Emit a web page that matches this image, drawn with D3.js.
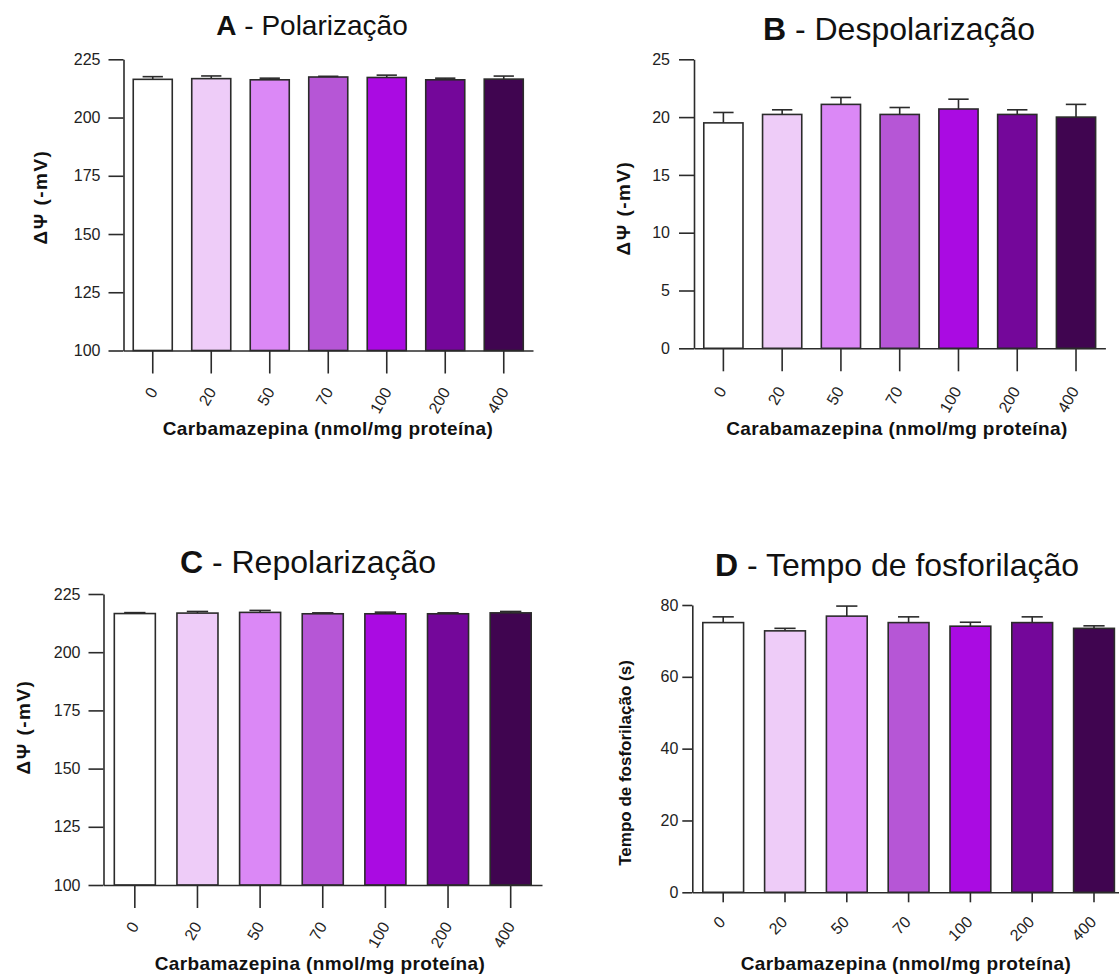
<!DOCTYPE html>
<html>
<head>
<meta charset="utf-8">
<script src="https://cdn.jsdelivr.net/npm/d3@7"></script>
<style>
  body { margin: 0; background: #fff; }
  svg { display: block; }
  text { font-family: "Liberation Sans", Arial, Helvetica, sans-serif; }
</style>
</head>
<body>
<svg id="fig" width="1119" height="977"></svg>
<script>
// Carbamazepine doses (nmol/mg protein) and the fill used for each dose
const doses = ["0", "20", "50", "70", "100", "200", "400"];
const barColors = ["#ffffff", "#eeccf8", "#db88f6", "#b656d6", "#aa0be2", "#74079a", "#400550"];

// A - polarization (mean and SEM, -mV)
const polarizacao    = [216.4, 216.7, 216.2, 217.4, 217.2, 216.2, 216.5];
const polarizacaoSem = [1.15, 1.15, 0.7, 0.3, 1.0, 0.7, 1.3];

// B - depolarization (mean and SEM, -mV)
const despolarizacao    = [19.5, 20.23, 21.1, 20.23, 20.7, 20.23, 20.0];
const despolarizacaoSem = [0.9, 0.4, 0.6, 0.6, 0.85, 0.4, 1.1];

// C - repolarization (mean and SEM, -mV)
const repolarizacao    = [216.6, 216.8, 217.1, 216.5, 216.5, 216.5, 216.9];
const repolarizacaoSem = [0.4, 0.7, 0.85, 0.4, 0.7, 0.4, 0.6];

// D - phosphorylation time (mean and SEM, s)
const tempoFosforilacao    = [75.1, 72.8, 76.9, 75.1, 74.1, 75.1, 73.5];
const tempoFosforilacaoSem = [1.6, 0.7, 2.8, 1.6, 1.1, 1.6, 0.7];

// y tick values
const ticksMV    = [100, 125, 150, 175, 200, 225];
const ticksDesp  = [0, 5, 10, 15, 20, 25];
const ticksTempo = [0, 20, 40, 60, 80];

const svg = d3.select("#fig");
svg.append("rect").attr("width", 1119).attr("height", 977).attr("fill", "#fff");

const panels = [
  { letter: "A", title: "Polarização", values: polarizacao, sem: polarizacaoSem, ticks: ticksMV,
    ylabel: "ΔΨ (-mV)", xlabel: "Carbamazepina (nmol/mg proteína)",
    x0: 123.5, x1: 533, yTop: 59.3, yBot: 350.5, pad: 0.333,
    yTick: 15, yPad: 8, xTick: 23, lx: 5.5, ly: 41, rot: -60,
    title_x: 312, title_y: 35, titleSize: 28,
    yl_x: 40, yl_y: 197, ylSize: 19, ylSpacing: 1.5,
    xl_x: 328, xl_y: 435, xlSize: 19 },
  { letter: "B", title: "Despolarização", values: despolarizacao, sem: despolarizacaoSem, ticks: ticksDesp,
    ylabel: "ΔΨ (-mV)", xlabel: "Carabamazepina (nmol/mg proteína)",
    x0: 694, x1: 1105.4, yTop: 59.3, yBot: 348.3, pad: 0.333,
    yTick: 15, yPad: 9, xTick: 23, lx: 3.5, ly: 42.5, rot: -60,
    title_x: 899, title_y: 40, titleSize: 32,
    yl_x: 623, yl_y: 208, ylSize: 19, ylSpacing: 1.5,
    xl_x: 897, xl_y: 435, xlSize: 19 },
  { letter: "C", title: "Repolarização", values: repolarizacao, sem: repolarizacaoSem, ticks: ticksMV,
    ylabel: "ΔΨ (-mV)", xlabel: "Carbamazepina (nmol/mg proteína)",
    x0: 103.5, x1: 542, yTop: 594, yBot: 885, pad: 0.345,
    yTick: 15, yPad: 8, xTick: 23, lx: 4.7, ly: 41, rot: -60,
    title_x: 308, title_y: 573, titleSize: 32,
    yl_x: 23, yl_y: 727, ylSize: 19, ylSpacing: 1.5,
    xl_x: 320, xl_y: 970, xlSize: 19 },
  { letter: "D", title: "Tempo de fosforilação", values: tempoFosforilacao, sem: tempoFosforilacaoSem, ticks: ticksTempo,
    ylabel: "Tempo de fosforilação (s)", xlabel: "Carbamazepina (nmol/mg proteína)",
    x0: 692.3, x1: 1124.9, yTop: 605, yBot: 892.3, pad: 0.34,
    yTick: 10, yPad: 4, xTick: 10, lx: 3.2, ly: 30.7, rot: -45,
    title_x: 897, title_y: 576, titleSize: 32,
    yl_x: 625, yl_y: 763, ylSize: 17, ylSpacing: 0,
    xl_x: 906, xl_y: 970, xlSize: 19 }
];

const axisColor = "#2b2b2b";
const textColor = "#222";

function drawPanel(p) {
  const g = svg.append("g").attr("class", "panel-" + p.letter);

  const x = d3.scaleBand().domain(doses).range([p.x0, p.x1])
    .paddingInner(p.pad).paddingOuter(p.pad / 2);
  const y = d3.scaleLinear().domain([p.ticks[0], p.ticks[p.ticks.length - 1]])
    .range([p.yBot, p.yTop]);

  // error bars (upper SEM only)
  const eb = g.append("g").attr("stroke", axisColor).attr("stroke-width", 1.6);
  doses.forEach((d, i) => {
    const cx = x(d) + x.bandwidth() / 2;
    const top = y(p.values[i] + p.sem[i]);
    eb.append("line").attr("x1", cx).attr("x2", cx).attr("y1", y(p.values[i])).attr("y2", top);
    eb.append("line").attr("x1", cx - x.bandwidth() * 0.26).attr("x2", cx + x.bandwidth() * 0.26)
      .attr("y1", top).attr("y2", top);
  });

  // bars
  g.append("g").selectAll("rect").data(doses).join("rect")
    .attr("x", d => x(d))
    .attr("y", (d, i) => y(p.values[i]))
    .attr("width", x.bandwidth())
    .attr("height", (d, i) => y(p.ticks[0]) - y(p.values[i]))
    .attr("fill", (d, i) => barColors[i])
    .attr("stroke", axisColor)
    .attr("stroke-width", 1.6);

  // y axis
  const ya = g.append("g").attr("transform", `translate(${p.x0},0)`)
    .call(d3.axisLeft(y).tickValues(p.ticks).tickSize(p.yTick).tickSizeOuter(0).tickPadding(p.yPad));
  ya.select(".domain").attr("stroke", axisColor).attr("stroke-width", 1.6);
  ya.selectAll(".tick line").attr("stroke", axisColor).attr("stroke-width", 1.6);
  ya.selectAll(".tick text").attr("fill", textColor).style("font-size", "16px");

  // x axis with slanted dose labels
  const xa = g.append("g").attr("transform", `translate(0,${p.yBot})`)
    .call(d3.axisBottom(x).tickSize(p.xTick).tickSizeOuter(0));
  xa.select(".domain").attr("stroke", axisColor).attr("stroke-width", 1.6);
  xa.selectAll(".tick line").attr("stroke", axisColor).attr("stroke-width", 1.6);
  xa.selectAll(".tick text")
    .attr("x", 0).attr("y", 0).attr("dy", 0)
    .attr("text-anchor", "end")
    .attr("transform", `translate(${p.lx},${p.ly}) rotate(${p.rot})`)
    .attr("fill", textColor)
    .style("font-size", "16px");

  // panel title
  const t = g.append("text").attr("x", p.title_x).attr("y", p.title_y)
    .attr("text-anchor", "middle").attr("fill", "#111").style("font-size", p.titleSize + "px");
  t.append("tspan").attr("font-weight", "bold").text(p.letter);
  t.append("tspan").text(" - " + p.title);

  // axis titles
  g.append("text")
    .attr("transform", `translate(${p.yl_x},${p.yl_y}) rotate(-90)`)
    .attr("text-anchor", "middle").attr("dy", "0.35em")
    .attr("font-weight", "bold").attr("fill", "#111")
    .style("font-size", p.ylSize + "px")
    .style("letter-spacing", p.ylSpacing + "px")
    .text(p.ylabel);

  g.append("text")
    .attr("x", p.xl_x).attr("y", p.xl_y)
    .attr("text-anchor", "middle")
    .attr("font-weight", "bold").attr("fill", "#111")
    .style("font-size", p.xlSize + "px")
    .style("letter-spacing", "0.4px")
    .text(p.xlabel);
}

panels.forEach(drawPanel);
</script>
</body>
</html>
